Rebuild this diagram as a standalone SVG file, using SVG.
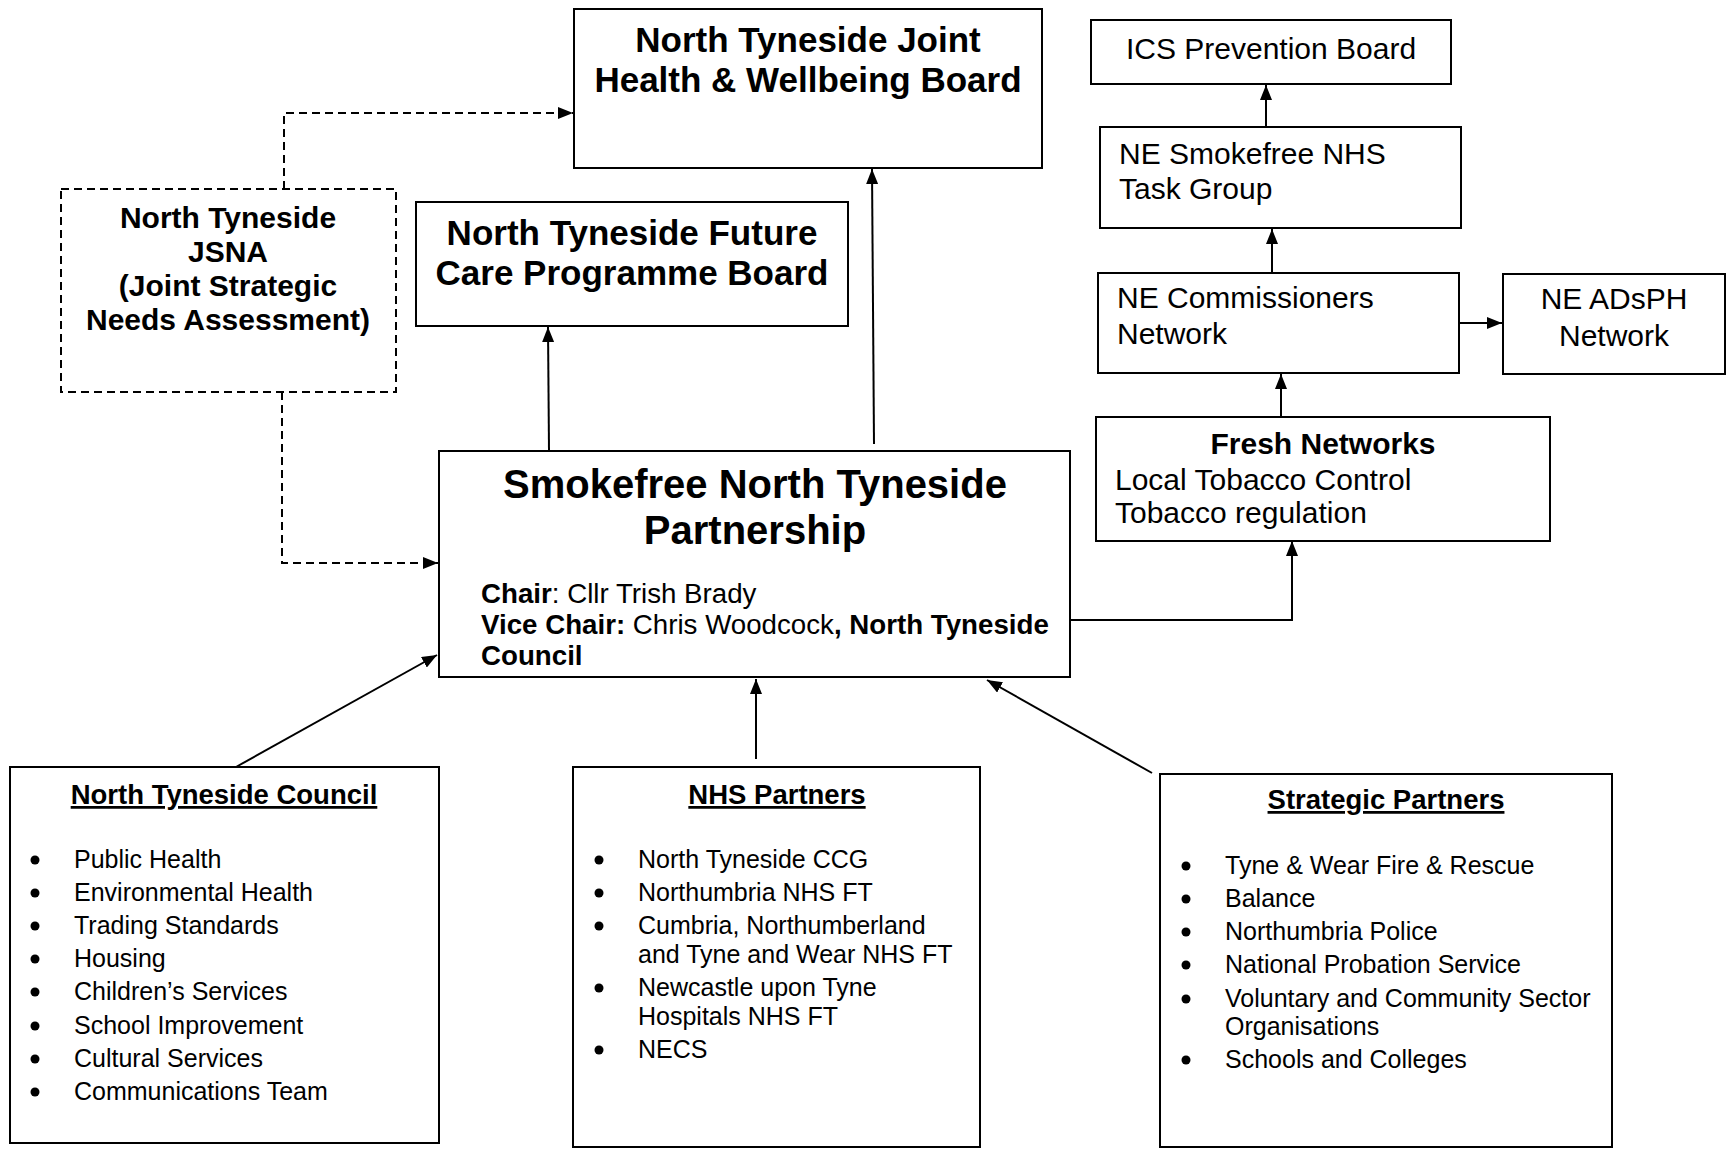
<svg xmlns="http://www.w3.org/2000/svg" width="1733" height="1152" viewBox="0 0 1733 1152">
<style>
text{font-family:"Liberation Sans",Arial,sans-serif;fill:#000}
.box{fill:#fff;stroke:#000;stroke-width:2}
.dbox{fill:#fff;stroke:#000;stroke-width:2;stroke-dasharray:8 5}
.b35{font-size:35px;font-weight:bold;text-anchor:middle}
.b40{font-size:40px;font-weight:bold;text-anchor:middle}
.b30c{font-size:30px;font-weight:bold;text-anchor:middle}
.r30{font-size:30px}
.r30c{font-size:30px;text-anchor:middle}
.r28{font-size:27.7px}
.r25{font-size:25px}
.h{font-size:27.5px;font-weight:bold;text-anchor:middle;text-decoration:underline}
.bul{fill:#000}
.con{fill:none;stroke:#000;stroke-width:2}
.dash{fill:none;stroke:#000;stroke-width:2;stroke-dasharray:8 5}
</style>
<defs>
<marker id="arr" markerUnits="userSpaceOnUse" markerWidth="15" markerHeight="12" refX="15" refY="6" orient="auto">
<path d="M0,0 L15,6 L0,12 z" fill="#000"/>
</marker>
</defs>
<rect width="1733" height="1152" fill="#fff"/>

<g id="connectors">
<path class="dash" d="M284,189 V113 H573" marker-end="url(#arr)"/>
<path class="dash" d="M282,392 V563 H438" marker-end="url(#arr)"/>
<path class="con" d="M549,451 L548,327" marker-end="url(#arr)"/>
<path class="con" d="M874,444 L872,169" marker-end="url(#arr)"/>
<path class="con" d="M1070,620 H1292 V541" marker-end="url(#arr)"/>
<path class="con" d="M1281,416 V374" marker-end="url(#arr)"/>
<path class="con" d="M1272,272 V229" marker-end="url(#arr)"/>
<path class="con" d="M1266,126 V85" marker-end="url(#arr)"/>
<path class="con" d="M1460,323 H1502" marker-end="url(#arr)"/>
<path class="con" d="M236,767 L437,655" marker-end="url(#arr)"/>
<path class="con" d="M756,759 V679" marker-end="url(#arr)"/>
<path class="con" d="M1152,773 L987,680" marker-end="url(#arr)"/>
</g>

<g id="joint-board">
<rect class="box" x="574" y="9" width="468" height="159"/>
<text class="b35" x="808" y="52">North Tyneside Joint</text>
<text class="b35" x="808" y="92">Health &amp; Wellbeing Board</text>
</g>

<g id="jsna">
<rect class="dbox" x="61" y="189" width="335" height="203"/>
<text class="b30c" x="228" y="228">North Tyneside</text>
<text class="b30c" x="228" y="262">JSNA</text>
<text class="b30c" x="228" y="296">(Joint Strategic</text>
<text class="b30c" x="228" y="330">Needs Assessment)</text>
</g>

<g id="future-care">
<rect class="box" x="416" y="202" width="432" height="124"/>
<text class="b35" x="632" y="245">North Tyneside Future</text>
<text class="b35" x="632" y="285">Care Programme Board</text>
</g>

<g id="smokefree">
<rect class="box" x="439" y="451" width="631" height="226"/>
<text class="b40" x="755" y="498">Smokefree North Tyneside</text>
<text class="b40" x="755" y="544">Partnership</text>
<text class="r28" x="481" y="603"><tspan font-weight="bold">Chair</tspan>: Cllr Trish Brady</text>
<text class="r28" x="481" y="634"><tspan font-weight="bold">Vice Chair:</tspan> Chris Woodcock<tspan font-weight="bold">, North Tyneside</tspan></text>
<text class="r28" x="481" y="665" font-weight="bold">Council</text>
</g>

<g id="ics">
<rect class="box" x="1091" y="20" width="360" height="64"/>
<text class="r30c" x="1271" y="59">ICS Prevention Board</text>
</g>

<g id="ne-smokefree">
<rect class="box" x="1100" y="127" width="361" height="101"/>
<text class="r30" x="1119" y="164">NE Smokefree NHS</text>
<text class="r30" x="1119" y="199">Task Group</text>
</g>

<g id="ne-commissioners">
<rect class="box" x="1098" y="273" width="361" height="100"/>
<text class="r30" x="1117" y="308">NE Commissioners</text>
<text class="r30" x="1117" y="344">Network</text>
</g>

<g id="ne-adsph">
<rect class="box" x="1503" y="274" width="222" height="100"/>
<text class="r30c" x="1614" y="309">NE ADsPH</text>
<text class="r30c" x="1614" y="346">Network</text>
</g>

<g id="fresh">
<rect class="box" x="1096" y="417" width="454" height="124"/>
<text class="b30c" x="1323" y="454">Fresh Networks</text>
<text class="r30" x="1115" y="490">Local Tobacco Control</text>
<text class="r30" x="1115" y="523">Tobacco regulation</text>
</g>

<g id="ntc">
<rect class="box" x="10" y="767" width="429" height="376"/>
<text class="h" x="224" y="804">North Tyneside Council</text>
<circle class="bul" cx="35" cy="860" r="4.5"/><text class="r25" x="74" y="868">Public Health</text>
<circle class="bul" cx="35" cy="893" r="4.5"/><text class="r25" x="74" y="901">Environmental Health</text>
<circle class="bul" cx="35" cy="926" r="4.5"/><text class="r25" x="74" y="934">Trading Standards</text>
<circle class="bul" cx="35" cy="959" r="4.5"/><text class="r25" x="74" y="967">Housing</text>
<circle class="bul" cx="35" cy="992" r="4.5"/><text class="r25" x="74" y="1000">Children’s Services</text>
<circle class="bul" cx="35" cy="1026" r="4.5"/><text class="r25" x="74" y="1034">School Improvement</text>
<circle class="bul" cx="35" cy="1059" r="4.5"/><text class="r25" x="74" y="1067">Cultural Services</text>
<circle class="bul" cx="35" cy="1092" r="4.5"/><text class="r25" x="74" y="1100">Communications Team</text>
</g>

<g id="nhs">
<rect class="box" x="573" y="767" width="407" height="380"/>
<text class="h" x="777" y="804">NHS Partners</text>
<circle class="bul" cx="599" cy="860" r="4.5"/><text class="r25" x="638" y="868">North Tyneside CCG</text>
<circle class="bul" cx="599" cy="893" r="4.5"/><text class="r25" x="638" y="901">Northumbria NHS FT</text>
<circle class="bul" cx="599" cy="926" r="4.5"/><text class="r25" x="638" y="934">Cumbria, Northumberland</text>
<text class="r25" x="638" y="963">and Tyne and Wear NHS FT</text>
<circle class="bul" cx="599" cy="988" r="4.5"/><text class="r25" x="638" y="996">Newcastle upon Tyne</text>
<text class="r25" x="638" y="1025">Hospitals NHS FT</text>
<circle class="bul" cx="599" cy="1050" r="4.5"/><text class="r25" x="638" y="1058">NECS</text>
</g>

<g id="strategic">
<rect class="box" x="1160" y="774" width="452" height="373"/>
<text class="h" x="1386" y="809">Strategic Partners</text>
<circle class="bul" cx="1186" cy="866" r="4.5"/><text class="r25" x="1225" y="874">Tyne &amp; Wear Fire &amp; Rescue</text>
<circle class="bul" cx="1186" cy="899" r="4.5"/><text class="r25" x="1225" y="907">Balance</text>
<circle class="bul" cx="1186" cy="932" r="4.5"/><text class="r25" x="1225" y="940">Northumbria Police</text>
<circle class="bul" cx="1186" cy="965" r="4.5"/><text class="r25" x="1225" y="973">National Probation Service</text>
<circle class="bul" cx="1186" cy="999" r="4.5"/><text class="r25" x="1225" y="1007">Voluntary and Community Sector</text>
<text class="r25" x="1225" y="1035">Organisations</text>
<circle class="bul" cx="1186" cy="1060" r="4.5"/><text class="r25" x="1225" y="1068">Schools and Colleges</text>
</g>
</svg>
